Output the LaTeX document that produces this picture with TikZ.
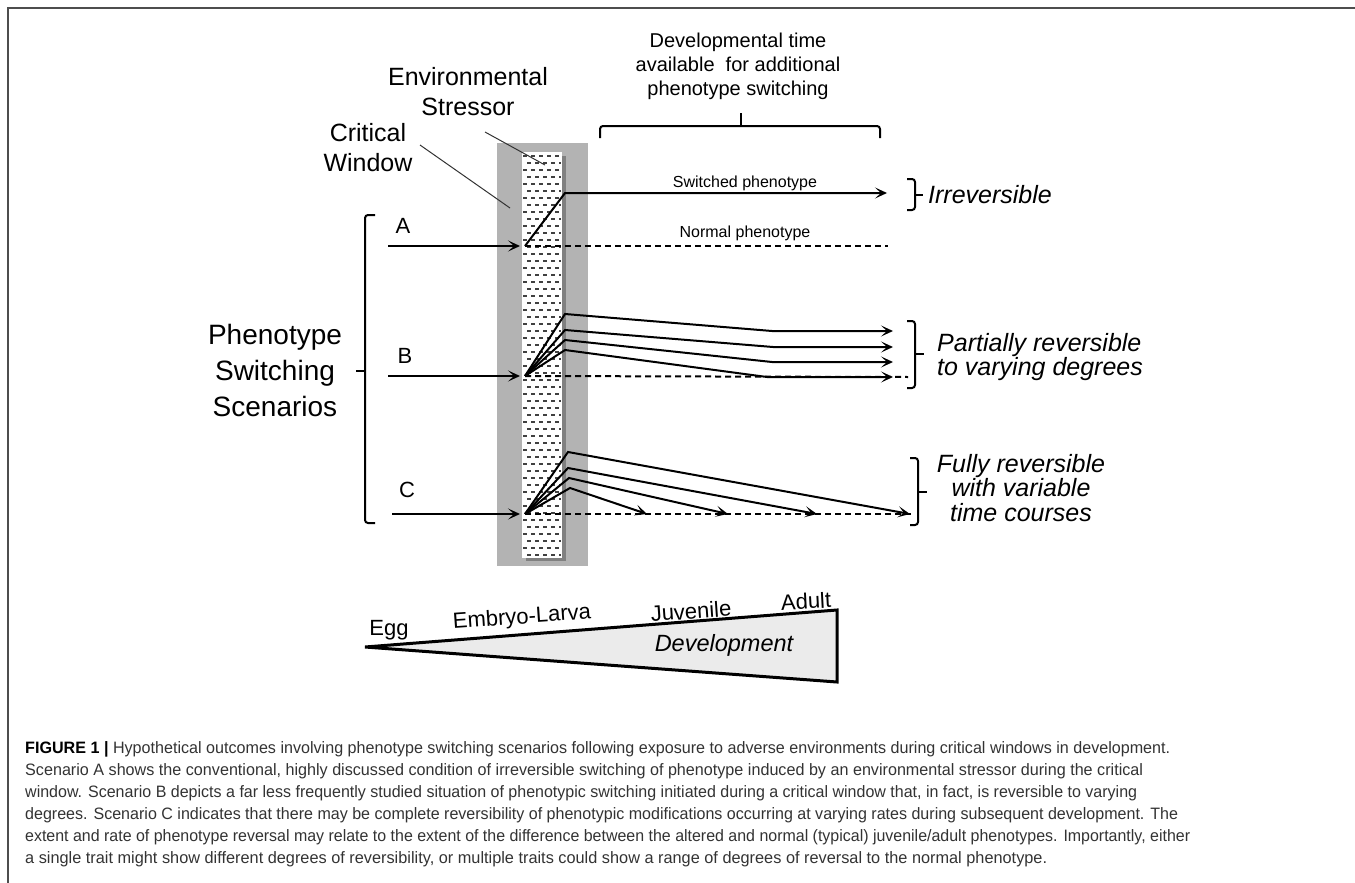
\documentclass[tikz,border=0pt]{standalone}
\usepackage{fontspec}
\setmainfont{Liberation Sans}
\usepackage{graphicx}
\usetikzlibrary{arrows.meta}
\definecolor{bandgray}{HTML}{B3B3B3}
\definecolor{shadegray}{HTML}{808080}
\definecolor{wedgegray}{HTML}{EBEBEB}
\definecolor{captext}{HTML}{333333}
\definecolor{framegray}{HTML}{4D4D4D}

\begin{document}
\begin{tikzpicture}[x=1pt,y=-1pt,>={Stealth[length=12pt,width=11pt,inset=6pt]},
  line/.style={line width=2pt},
  normal/.style={line width=2pt,dash pattern=on 6pt off 4pt},
  stressdash/.style={line width=1.3pt,black!75,dash pattern=on 4pt off 4pt},
  lead/.style={line width=1pt,black!80},
  brack/.style={line width=2pt,rounded corners=3pt},
  lbl/.style={font=\fontsize{25}{30}\selectfont,align=center,inner sep=0pt},
  outcome/.style={font=\fontsize{25}{24.5}\selectfont\itshape,inner sep=0pt},
  stage/.style={font=\fontsize{22}{24}\selectfont,inner sep=0pt},
  small/.style={font=\fontsize{16}{18}\selectfont,inner sep=0pt},
  capline/.style={font=\fontsize{16.5}{22}\selectfont,text=captext,inner sep=0pt,anchor=base west}]

\useasboundingbox (0,0) rectangle (1355,883);
\draw[framegray,line width=2pt] (8,883) -- (8,8) -- (1355,8);

% critical window and stressor
\fill[bandgray] (497,143) rectangle (588,566);
\fill[shadegray] (526,156) rectangle (566,561);
\fill[white] (522,152) rectangle (562,558);
\foreach \r [evaluate=\r as \ph using {mod(\r,2)*4}] in {0,...,57}
  \draw[stressdash,dash phase=\ph pt] (523,{156+7*\r}) -- (561,{156+7*\r});

% labels on top
\node[lbl] (stressor) at (468,92) {Environmental\\Stressor};
\node[lbl] (critical) at (368,148) {Critical\\Window};
\node[lbl,font=\fontsize{20}{24}\selectfont] (devtime) at (738,66)
  {Developmental time\\available\ \ for additional\\phenotype switching};
\node[lbl,font=\fontsize{28}{36}\selectfont] (pss) at (275,370)
  {Phenotype\\Switching\\Scenarios};

\coordinate (stressA) at (485,132);
\coordinate (stressB) at (545,165);
\coordinate (critA) at (420,145);
\coordinate (critB) at (510,208);
\draw[lead] (stressA) -- (stressB);
\draw[lead] (critA) -- (critB);

% braces
\draw[brack] (600,138) -- (600,126) -- (880,126) -- (880,138);
\draw[brack] (741,126) -- (741,113);
\draw[brack] (375,215) -- (365,215) -- (365,523) -- (375,523);
\draw[brack] (365,371) -- (356,371);

% scenario A
\node[lbl,font=\fontsize{22}{24}\selectfont] (labA) at (403,226) {A};
\coordinate (Ain) at (388,246);
\coordinate (Ao) at (525,246);
\coordinate (Asw) at (565,193);
\coordinate (Aend) at (887,193);
\coordinate (Anorm) at (888,246);
\draw[normal] (Ao) -- (Anorm);
\draw[line,->,shorten >=5pt] (Ain) -- (Ao);
\draw[line,->] (Ao) -- (Asw) -- (Aend);
\node[small] (switched) at (745,183) {Switched phenotype};
\node[small] (normal) at (745,233) {Normal phenotype};
\draw[brack] (907,179) -- (915,179) -- (915,210) -- (907,210);
\draw[brack] (915,195) -- (923,195);
\node[outcome,anchor=west] (irrev) at (928,195) {Irreversible};

% scenario B
\node[lbl,font=\fontsize{22}{24}\selectfont] (labB) at (405,356) {B};
\coordinate (Bin) at (388,376);
\coordinate (Bo) at (525,376);
\coordinate (Bnorm) at (908,377);
\draw[normal] (Bo) -- (Bnorm);
\draw[line,->,shorten >=5pt] (Bin) -- (Bo);
\foreach \i/\vy/\bx/\ey in {1/314/772/331,2/330/773/347,3/340/772/362,4/350/767/377}{
  \coordinate (Bv\i) at (565,\vy);
  \coordinate (Bb\i) at (\bx,\ey);
  \coordinate (Be\i) at (893,\ey);
  \draw[line,->] (Bo) -- (Bv\i) -- (Bb\i) -- (Be\i);
}
\draw[brack] (907,321) -- (915,321) -- (915,388) -- (907,388);
\draw[brack] (915,354) -- (924,354);
\node[outcome,anchor=west,align=left] (partial) at (937,357)
  {Partially reversible\\to varying degrees};

% scenario C
\node[lbl,font=\fontsize{22}{24}\selectfont] (labC) at (407,490) {C};
\coordinate (Cin) at (392,514);
\coordinate (Co) at (525,514);
\coordinate (Cnorm) at (912,514);
\draw[normal] (Co) -- (Cnorm);
\draw[line,->,shorten >=5pt] (Cin) -- (Co);
\foreach \i/\vx/\vy/\ex in {1/568/452/910,2/568/468/817,3/569/478/728,4/570/488/647}{
  \coordinate (Cv\i) at (\vx,\vy);
  \coordinate (Ce\i) at (\ex,514);
  \draw[line,->] (Co) -- (Cv\i) -- (Ce\i);
}
\draw[brack] (910,458) -- (918,458) -- (918,525) -- (910,525);
\draw[brack] (918,492) -- (927,492);
\node[outcome,align=center] (fully) at (1021,488)
  {Fully reversible\\with variable\\time courses};

% development wedge
\coordinate (egg) at (365,647);
\coordinate (adultT) at (837,610);
\coordinate (adultB) at (837,682);
\draw[line width=3pt,fill=wedgegray,line join=miter] (egg) -- (adultT) -- (adultB) -- cycle;
\node[stage] (lEgg) at (389,630) {Egg};
\node[stage,rotate=4] (lEmb) at (522,618) {Embryo-Larva};
\node[stage,rotate=4] (lJuv) at (691,611) {Juvenile};
\node[stage,rotate=3] (lAdu) at (806,601) {Adult};
\node[outcome,font=\fontsize{23.5}{26}\selectfont\itshape] (lDev) at (724,645) {Development};

% caption
\node[capline] (cap1) at (25,753) {\resizebox{1145pt}{\height}{\textcolor{black}{\textbf{FIGURE 1 |}} Hypothetical outcomes involving phenotype switching scenarios following exposure to adverse environments during critical windows in development.}};
\node[capline] (cap2) at (25,775) {\resizebox{1118pt}{\height}{Scenario A shows the conventional, highly discussed condition of irreversible switching of phenotype induced by an environmental stressor during the critical}};
\node[capline] (cap3) at (25,797) {\resizebox{1112pt}{\height}{window. Scenario B depicts a far less frequently studied situation of phenotypic switching initiated during a critical window that, in fact, is reversible to varying}};
\node[capline] (cap4) at (25,819) {\resizebox{1153pt}{\height}{degrees. Scenario C indicates that there may be complete reversibility of phenotypic modifications occurring at varying rates during subsequent development. The}};
\node[capline] (cap5) at (25,841) {\resizebox{1165pt}{\height}{extent and rate of phenotype reversal may relate to the extent of the difference between the altered and normal (typical) juvenile/adult phenotypes. Importantly, either}};
\node[capline] (cap6) at (25,863) {\resizebox{1022pt}{\height}{a single trait might show different degrees of reversibility, or multiple traits could show a range of degrees of reversal to the normal phenotype.}};

\end{tikzpicture}
\end{document}
